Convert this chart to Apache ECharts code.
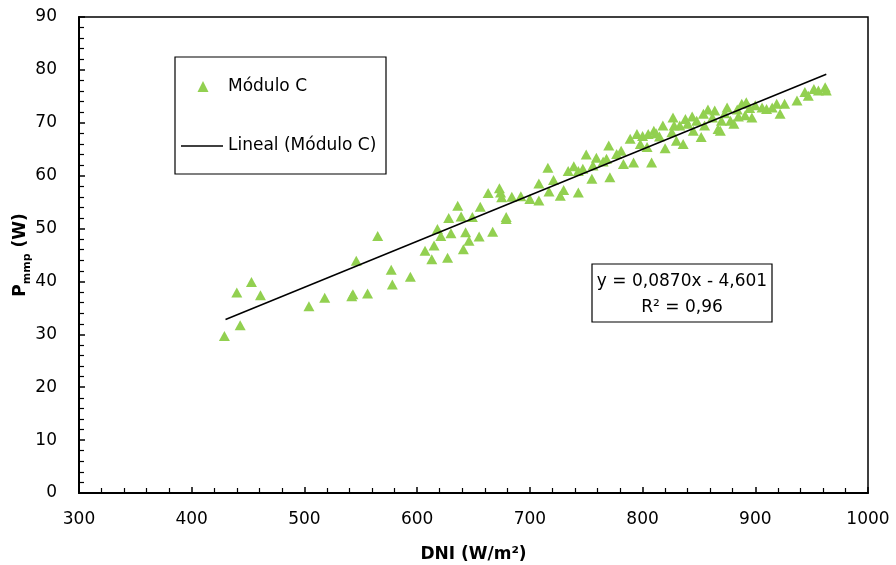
<!DOCTYPE html>
<html>
<head>
<meta charset="utf-8">
<script src="https://cdn.jsdelivr.net/npm/echarts@6/dist/echarts.min.js"></script>
<style>html,body{margin:0;padding:0;background:#fff}#c{width:896px;height:565px}</style>
</head>
<body>
<div id="c"></div>
<script>
// DNI (W/m2) values
const dni = [429,443,440,453,461,504,518,542,543,556,546,565,577,578,594,
607,613,615,618,621,627,628,630,636,639,641,643,646,649,655,656,663,667,673,674,675,679,679,684,692,700,708,708,716,717,721,727,
730,743,734,739,743,750,747,755,756,759,765,768,771,770,777,781,783,789,792,795,798,804,805,808,810,815,818,820,826,827,830,833,836,838,844,845,848,
854,855,852,864,867,870,875,878,881,888,892,891,897,906,910,915,919,922,926,937,944,947,952,956,962,963,869,
858,862,873,884,895,900,885,828,840,812,800];
// Pmmp (W) values
const pmmp = [29.7,31.7,37.9,39.9,37.4,35.3,36.9,37.2,37.6,37.7,43.9,48.6,42.2,39.4,40.9,
45.8,44.2,46.8,49.9,48.6,44.5,52.0,49.1,54.3,52.3,46.1,49.3,47.7,52.2,48.5,54.1,56.7,49.4,57.6,56.8,55.9,52.2,51.8,56.0,56.1,55.6,55.3,58.5,61.5,57.0,59.2,56.2,
57.3,56.8,60.9,61.8,60.9,64.0,61.3,59.4,61.9,63.4,62.7,63.2,59.7,65.7,64.1,64.7,62.2,67.0,62.5,67.9,66.0,65.4,67.9,62.5,68.5,67.4,69.5,65.2,68.2,71.0,66.6,69.5,66.0,70.7,71.2,68.5,70.4,
71.7,69.5,67.3,72.3,68.8,70.4,72.9,70.4,69.8,73.6,73.9,71.4,71.0,72.9,72.6,72.9,73.6,71.7,73.6,74.2,75.8,75.1,76.4,76.1,76.7,76.1,68.5,
72.5,71.0,71.8,72.5,72.8,73.3,71.2,69.5,69.8,68.0,67.5];
// Linear trend (from the equation shown on the chart)
const slope = 0.0870, intercept = -4.601;
const trendX = [430, 963];
const xTicks = [300, 1000, 100];
const yTicks = [0, 90, 10];

const FONT = 'DejaVu Sans';
const scatterData = dni.map((x, i) => [x, pmmp[i]]);
const trendData = trendX.map(x => [x, slope * x + intercept]);

const chart = echarts.init(document.getElementById('c'), null, {renderer: 'canvas'});
chart.setOption({
  animation: false,
  backgroundColor: '#fff',
  textStyle: {fontFamily: FONT},
  grid: {left: 79, top: 17, right: 28, bottom: 72, containLabel: false, outerBoundsMode: 'none',
         show: true, borderColor: '#000', borderWidth: 1.5},
  xAxis: {
    type: 'value', min: xTicks[0], max: xTicks[1], interval: xTicks[2],
    name: 'DNI (W/m²)', nameLocation: 'middle', nameGap: 53, nameMoveOverlap: false,
    nameTextStyle: {fontFamily: FONT, fontSize: 17, fontWeight: 'bold', color: '#000'},
    axisLine: {show: true, onZero: false, lineStyle: {color: '#000', width: 2}},
    axisTick: {show: true, inside: true, length: 6, lineStyle: {color: '#000', width: 1.5}},
    minorTick: {show: true, splitNumber: 5, length: 5, lineStyle: {color: '#000', width: 1.2}},
    axisLabel: {fontFamily: FONT, fontSize: 17, color: '#000', margin: 18, formatter: v => String(v)},
    splitLine: {show: false}
  },
  yAxis: {
    type: 'value', min: yTicks[0], max: yTicks[1], interval: yTicks[2],
    name: '{a|P}{b|mmp}{a| (W)}', nameLocation: 'middle', nameGap: 50, nameRotate: 90, nameMoveOverlap: false,
    nameTextStyle: {
      fontFamily: FONT, color: '#000',
      rich: {
        a: {fontFamily: FONT, fontSize: 17, fontWeight: 'bold', color: '#000', lineHeight: 22, verticalAlign: 'bottom'},
        b: {fontFamily: FONT, fontSize: 11, fontWeight: 'bold', color: '#000', lineHeight: 22, verticalAlign: 'bottom', padding: [0, 0, -4, 0]}
      }
    },
    axisLine: {show: true, onZero: false, lineStyle: {color: '#000', width: 2}},
    axisTick: {show: true, inside: true, length: 6, lineStyle: {color: '#000', width: 1.5}},
    minorTick: {show: true, splitNumber: 5, length: 5, lineStyle: {color: '#000', width: 1.2}},
    axisLabel: {fontFamily: FONT, fontSize: 17, color: '#000', margin: 22, formatter: v => String(v)},
    splitLine: {show: false}
  },
  series: [
    {
      name: 'Módulo C', type: 'scatter', data: scatterData,
      symbol: 'triangle', symbolSize: [11, 10],
      itemStyle: {color: '#92D050', opacity: 1}, z: 2
    },
    {
      name: 'Lineal (Módulo C)', type: 'line', data: trendData,
      symbol: 'none', lineStyle: {color: '#000', width: 1.5}, z: 3
    }
  ],
  graphic: [
    {type: 'rect', shape: {x: 175, y: 57, width: 211, height: 117}, style: {fill: '#fff', stroke: '#000', lineWidth: 1.2}, z: 10},
    {type: 'polygon', shape: {points: [[203, 81], [208.5, 92], [197.5, 92]]}, style: {fill: '#92D050'}, z: 11},
    {type: 'text', x: 228, y: 87, style: {text: 'Módulo C', font: '17px "DejaVu Sans"', fill: '#000', verticalAlign: 'middle'}, z: 11},
    {type: 'line', shape: {x1: 181, y1: 146, x2: 223, y2: 146}, style: {stroke: '#000', lineWidth: 1.5}, z: 11},
    {type: 'text', x: 228, y: 146, style: {text: 'Lineal (Módulo C)', font: '17px "DejaVu Sans"', fill: '#000', verticalAlign: 'middle'}, z: 11},
    {type: 'rect', shape: {x: 592, y: 264, width: 180, height: 58}, style: {fill: '#fff', stroke: '#000', lineWidth: 1.2}, z: 10},
    {type: 'text', x: 682, y: 282, style: {text: 'y = 0,0870x - 4,601', font: '17px "DejaVu Sans"', fill: '#000', align: 'center', verticalAlign: 'middle'}, z: 11},
    {type: 'text', x: 682, y: 308, style: {text: 'R² = 0,96', font: '17px "DejaVu Sans"', fill: '#000', align: 'center', verticalAlign: 'middle'}, z: 11}
  ]
});
</script>
</body>
</html>
